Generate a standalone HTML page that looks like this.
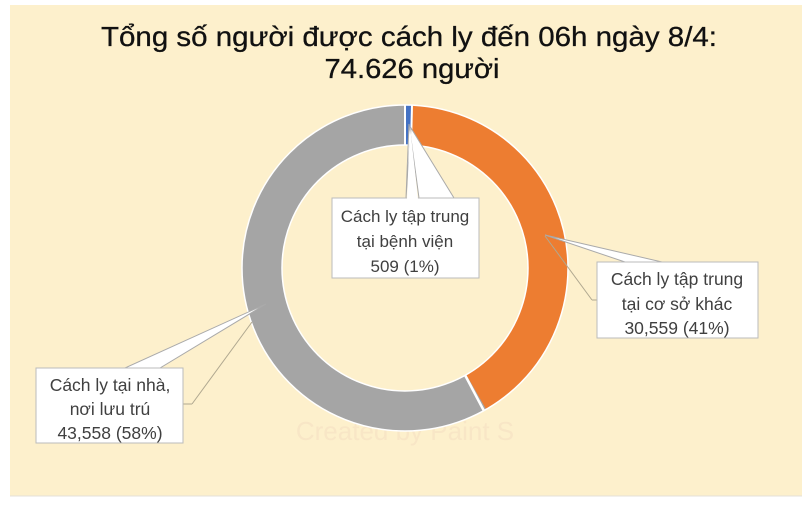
<!DOCTYPE html>
<html><head><meta charset="utf-8"><style>
body{margin:0;width:811px;height:509px;background:#fff;overflow:hidden;font-family:"Liberation Sans",sans-serif}
</style></head><body>
<svg width="811" height="509" xmlns="http://www.w3.org/2000/svg">
<rect x="10" y="5" width="792" height="491" fill="#fdf0cc"/>
<line x1="10" y1="496" x2="802" y2="496" stroke="#e4e0d8" stroke-width="1"/>
<g font-size="27.5" fill="#111" stroke="#111" stroke-width="0.3" text-anchor="middle">
<text x="409" y="46" textLength="616" lengthAdjust="spacingAndGlyphs">Tổng số người được cách ly đến 06h ngày 8/4:</text>
<text x="412" y="78" textLength="175" lengthAdjust="spacingAndGlyphs">74.626 người</text>
</g>
<text x="405" y="440" text-anchor="middle" font-size="26" fill="#f8e6c6">Created by Paint S</text>
<g transform="rotate(-90 405 268)">
<circle cx="405" cy="268" r="143" fill="none" stroke="#a5a5a5" stroke-width="40"/>
<circle cx="405" cy="268" r="143" fill="none" stroke="#ed7d31" stroke-width="40" stroke-dasharray="368.4 1000" stroke-dashoffset="-6.1"/>
<circle cx="405" cy="268" r="143" fill="none" stroke="#4472c4" stroke-width="40" stroke-dasharray="6.1 1000"/>
</g>
<circle cx="405" cy="268" r="163" fill="none" stroke="#fff" stroke-width="1.5"/>
<circle cx="405" cy="268" r="123" fill="none" stroke="#fff" stroke-width="1.5"/>
<line x1="405" y1="145" x2="405" y2="105" stroke="#fff" stroke-width="2"/>
<line x1="411" y1="145" x2="412" y2="105" stroke="#fff" stroke-width="2"/>
<line x1="465" y1="375" x2="484" y2="411" stroke="#fff" stroke-width="2.5"/>
<polygon points="406,198 409,124 419,198 454,198 411,128" fill="#fff" stroke="#aaa" stroke-width="1"/>
<rect x="332" y="198" width="147" height="80" fill="#fff" stroke="#bbb"/>
<polygon points="407,199 410,126 418,199" fill="#fff"/>
<g font-size="17" fill="#404040" text-anchor="middle">
<text x="405" y="222">Cách ly tập trung</text>
<text x="405" y="247">tại bệnh viện</text>
<text x="405" y="272">509  (1%)</text>
</g>
<polygon points="545,235 662,262 625,262" fill="#fff" stroke="#aaa"/>
<line x1="545" y1="236" x2="592" y2="300" stroke="#b0a890"/>
<line x1="592" y1="300" x2="597" y2="300" stroke="#b0a890"/>
<rect x="597" y="262" width="161" height="76" fill="#fff" stroke="#bbb"/>
<g font-size="17.5" fill="#404040" text-anchor="middle">
<text x="677" y="285">Cách ly tập trung</text>
<text x="677" y="310">tại cơ sở khác</text>
<text x="677" y="334">30,559 (41%)</text>
</g>
<polygon points="266,304 125,368 160,368" fill="#fff" stroke="#aaa"/>
<line x1="252" y1="322" x2="192" y2="404" stroke="#b0a890"/>
<line x1="192" y1="404" x2="183" y2="404" stroke="#b0a890"/>
<rect x="36" y="368" width="147" height="75" fill="#fff" stroke="#bbb"/>
<g font-size="17.5" fill="#404040" text-anchor="middle">
<text x="110" y="391">Cách ly tại nhà,</text>
<text x="110" y="415">nơi lưu trú</text>
<text x="110" y="439">43,558 (58%)</text>
</g>
</svg>
</body></html>
